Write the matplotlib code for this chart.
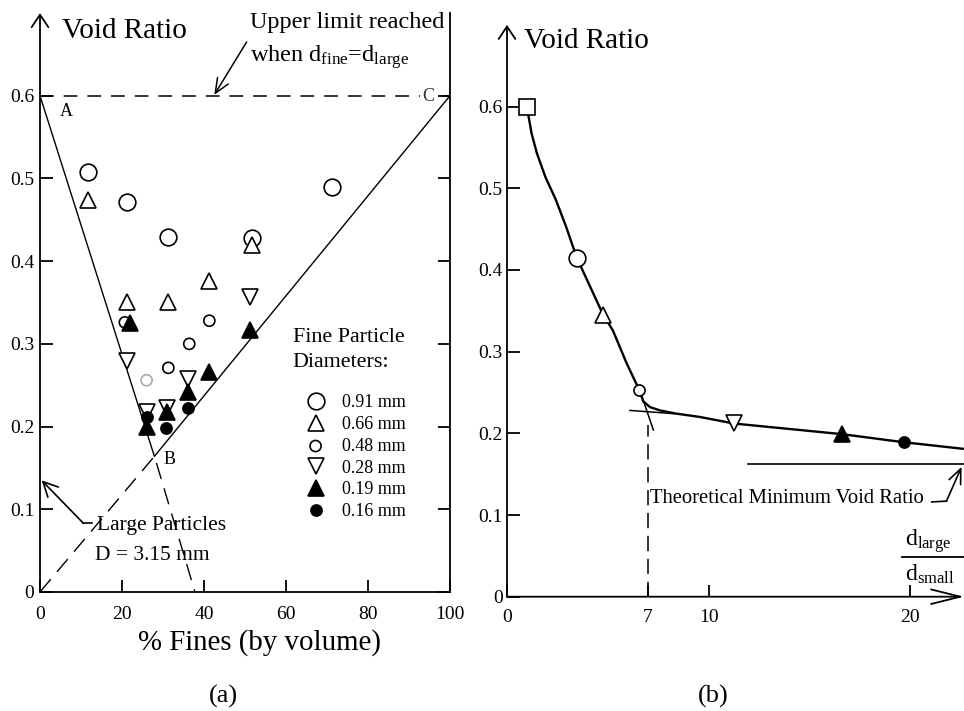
import matplotlib
matplotlib.use('Agg')
import matplotlib.pyplot as plt

plt.rcParams['font.family'] = ['Liberation Serif', 'DejaVu Serif']
plt.rcParams['mathtext.fontset'] = 'custom'
plt.rcParams['mathtext.rm'] = 'Liberation Serif'
plt.rcParams['mathtext.it'] = 'Liberation Serif:italic'

# ---- panel (a): void ratio vs % fines, one series per fine diameter
x_091 = [11.6, 21.3, 31.3, 51.6, 71.3]
y_091 = [0.508, 0.471, 0.429, 0.428, 0.490]
x_066 = [11.8, 21.3, 31.3, 41.2, 51.6]
y_066 = [0.474, 0.351, 0.351, 0.376, 0.420]
x_048 = [20.7, 26.0, 31.3, 36.4, 41.3]
y_048 = [0.326, 0.256, 0.271, 0.300, 0.328]
edge_048 = ['black', '#aaaaaa', 'black', 'black', 'black']
x_028 = [21.1, 26.0, 30.9, 36.2, 51.2]
y_028 = [0.279, 0.218, 0.223, 0.257, 0.357]
x_019 = [22.0, 26.0, 30.9, 36.2, 41.3, 51.2]
y_019 = [0.325, 0.200, 0.218, 0.242, 0.266, 0.317]
x_016 = [26.0, 30.7, 36.2]
y_016 = [0.211, 0.198, 0.223]

# triangle A-B-C and its dashed extensions
abc_x = [0, 27.9, 100]
abc_y = [0.6, 0.164, 0.6]
ob_x = [0, 27.9]
ob_y = [0, 0.164]
bd_x = [28.4, 37.8]
bd_y = [0.156, 0.0]

# ---- panel (b): void ratio vs d_large/d_small
ratio = [1.0, 3.46, 4.77, 6.56, 11.25, 16.6, 19.7]
void_b = [0.600, 0.415, 0.345, 0.253, 0.212, 0.199, 0.189]
curve_x = [1.0, 1.04, 1.22, 1.48, 1.90, 2.42, 2.93, 3.46, 4.77, 5.25, 5.93,
           6.56, 6.76, 7.1, 7.59, 8.42, 9.57, 11.25, 16.6, 19.7, 23.0]
curve_y = [0.600, 0.592, 0.567, 0.543, 0.514, 0.486, 0.453, 0.415, 0.345,
           0.326, 0.286, 0.253, 0.239, 0.232, 0.228, 0.224, 0.220, 0.212,
           0.199, 0.189, 0.180]

fig = plt.figure(figsize=(9.64, 7.11), dpi=100)

arrow_up = dict(arrowstyle='->,head_length=0.6,head_width=0.4', lw=1.3,
                color='black', mutation_scale=15, shrinkA=0, shrinkB=0)

# =========================== (a) ===========================
ax = fig.add_axes([40 / 964, 119 / 711, 410 / 964, 579 / 711])
ax.set_xlim(0, 100)
ax.set_ylim(0, 0.70)
ax.spines['top'].set_visible(False)
ax.spines['left'].set_visible(False)
for s in ['right', 'bottom']:
    ax.spines[s].set_linewidth(1.3)
ax.annotate('', xy=(0, 0.70), xytext=(0, 0), xycoords='data',
            arrowprops=arrow_up, annotation_clip=False)

ax.set_xticks([0, 20, 40, 60, 80, 100])
ax.set_xticklabels(['0', '20', '40', '60', '80', '100'])
ax.set_yticks([0, 0.1, 0.2, 0.3, 0.4, 0.5, 0.6])
ax.set_yticklabels(['0', '0.1', '0.2', '0.3', '0.4', '0.5', '0.6'])
ax.tick_params(direction='in', length=9, width=1.3, labelsize=14,
               right=True, top=False)
ax.tick_params(axis='x', pad=10)
ax.tick_params(axis='y', pad=4)

ax.axhline(0.6, color='black', lw=1.1, ls=(0, (9, 6.5)))
ax.plot(abc_x, abc_y, color='black', lw=1.0)
ax.plot(ob_x, ob_y, color='black', lw=1.0, ls=(0, (12, 7)))
ax.plot(bd_x, bd_y, color='black', lw=1.0, ls=(0, (12, 7)))

mk = dict(ls='none', color='black', mew=1.2)
h1, = ax.plot(x_091, y_091, marker='o', ms=12, mfc='white', label='0.91 mm', **mk)
h2, = ax.plot(x_066, y_066, marker='^', ms=11, mfc='white', label='0.66 mm', **mk)
h3 = ax.scatter(x_048, y_048, s=64, marker='o', facecolors='white',
                edgecolors=edge_048, linewidths=1.2, label='0.48 mm', zorder=2)
h4, = ax.plot(x_028, y_028, marker='v', ms=11, mfc='white', label='0.28 mm', **mk)
h6, = ax.plot(x_016, y_016, marker='o', ms=8, mfc='black', label='0.16 mm', **mk)
h5, = ax.plot(x_019, y_019, marker='^', ms=11, mfc='black', label='0.19 mm', **mk)

ax.text(5.4, 0.67, 'Void Ratio', fontsize=21, va='baseline')
ax.text(51.2, 0.682, 'Upper limit reached', fontsize=17.5, va='baseline')
ax.text(51.2, 0.641, r'when d$_{\mathrm{fine}}$=d$_{\mathrm{large}}$',
        fontsize=17.5, va='baseline')
ax.annotate('', xy=(42.5, 0.601), xytext=(50.4, 0.665),
            arrowprops=dict(arrowstyle='->,head_length=0.7,head_width=0.3',
                            lw=1.1, color='black', mutation_scale=15,
                            shrinkA=0, shrinkB=0), annotation_clip=False)
ax.text(4.9, 0.576, 'A', fontsize=13, va='baseline')
ax.text(94.6, 0.599, 'C', fontsize=13, va='center', ha='center', color='#333333',
        bbox=dict(facecolor='white', edgecolor='none', pad=1))
ax.text(31.7, 0.160, 'B', fontsize=13, va='center', ha='center')

ax.text(13.9, 0.075, 'Large Particles', fontsize=15.5, va='baseline')
ax.text(13.4, 0.0387, 'D = 3.15 mm', fontsize=15.5, va='baseline')
ax.plot([12.6, 10.6], [0.083, 0.083], color='black', lw=1.2)
ax.annotate('', xy=(0.4, 0.135), xytext=(10.6, 0.083),
            arrowprops=dict(arrowstyle='->,head_length=0.7,head_width=0.35',
                            lw=1.2, color='black', mutation_scale=15,
                            shrinkA=0, shrinkB=0), annotation_clip=False)

ax.text(61.6, 0.302, 'Fine Particle', fontsize=15.8, va='baseline')
ax.text(61.6, 0.272, 'Diameters:', fontsize=15.8, va='baseline')
leg = ax.legend(handles=[h1, h2, h3, h4, h5, h6], loc='upper left',
                bbox_to_anchor=(293 / 964, 1 - 394 / 711),
                bbox_transform=fig.transFigure, frameon=False, fontsize=13,
                handlelength=2.5, handletextpad=0.2, labelspacing=0.27,
                borderpad=0, borderaxespad=0, numpoints=1, scatterpoints=1)

fig.text(260 / 964, 1 - 650 / 711, '% Fines (by volume)', fontsize=20.8,
         ha='center', va='baseline')
fig.text(223 / 964, 1 - 703 / 711, '(a)', fontsize=19, ha='center', va='baseline')

# =========================== (b) ===========================
bx = fig.add_axes([507 / 964, 114.3 / 711, 457 / 964, 571.9 / 711])
bx.set_xlim(0, 457 / 20.16)
bx.set_ylim(0, 0.70)
for s in ['top', 'right', 'left', 'bottom']:
    bx.spines[s].set_visible(False)
bx.annotate('', xy=(0, 0.70), xytext=(0, 0), arrowprops=arrow_up,
            annotation_clip=False)
bx.annotate('', xy=(457 / 20.16, 0), xytext=(0, 0),
            arrowprops=dict(arrowstyle='->,head_length=1.4,head_width=0.35',
                            lw=1.3, color='black', mutation_scale=15,
                            shrinkA=0, shrinkB=0), annotation_clip=False)
bx.set_xticks([0, 7, 10, 20])
bx.set_xticklabels(['0', '7', '10', '20'])
bx.set_yticks([0, 0.1, 0.2, 0.3, 0.4, 0.5, 0.6])
bx.set_yticklabels(['0', '0.1', '0.2', '0.3', '0.4', '0.5', '0.6'])
bx.tick_params(direction='in', length=9, width=1.3, labelsize=14)
bx.tick_params(axis='x', pad=9)
bx.tick_params(axis='y', pad=3)

bx.plot(curve_x, curve_y, color='black', lw=1.7, clip_on=False,
        solid_joinstyle='round')
bx.plot([6.1, 8.3], [0.228, 0.224], color='black', lw=1.1)
bx.plot([6.6, 7.26], [0.252, 0.204], color='black', lw=1.1)
bx.plot([7, 7], [0, 0.21], color='black', lw=1.1, ls=(0, (10, 5)))

bx.plot(ratio[0], void_b[0], marker='s', ms=11, mfc='white', **mk)
bx.plot(ratio[1], void_b[1], marker='o', ms=12, mfc='white', **mk)
bx.plot(ratio[2], void_b[2], marker='^', ms=11, mfc='white', **mk)
bx.plot(ratio[3], void_b[3], marker='o', ms=8, mfc='white', **mk)
bx.plot(ratio[4], void_b[4], marker='v', ms=11, mfc='white', **mk)
bx.plot(ratio[5], void_b[5], marker='^', ms=11, mfc='black', **mk)
bx.plot(ratio[6], void_b[6], marker='o', ms=8, mfc='black', **mk)

bx.text(0.84, 0.672, 'Void Ratio', fontsize=21, va='baseline')
bx.plot([11.95, 22.67], [0.162, 0.162], color='black', lw=1.2, clip_on=False)
bx.text(7.09, 0.115, 'Theoretical Minimum Void Ratio', fontsize=14.9, va='baseline')
bx.plot([21.07, 21.8], [0.116, 0.117], color='black', lw=1.2)
bx.annotate('', xy=(22.55, 0.159), xytext=(21.8, 0.117),
            arrowprops=dict(arrowstyle='->,head_length=0.7,head_width=0.3',
                            lw=1.2, color='black', mutation_scale=15,
                            shrinkA=0, shrinkB=0), annotation_clip=False)
bx.text(19.74, 0.062, r'd$_{\mathrm{large}}$', fontsize=17, va='baseline',
        clip_on=False)
bx.plot([19.58, 22.67], [0.048, 0.048], color='black', lw=1.3, clip_on=False)
bx.text(19.74, 0.020, r'd$_{\mathrm{small}}$', fontsize=17, va='baseline',
        clip_on=False)

fig.text(713 / 964, 1 - 703 / 711, '(b)', fontsize=19, ha='center', va='baseline')

fig.savefig('out.png', dpi=100)
